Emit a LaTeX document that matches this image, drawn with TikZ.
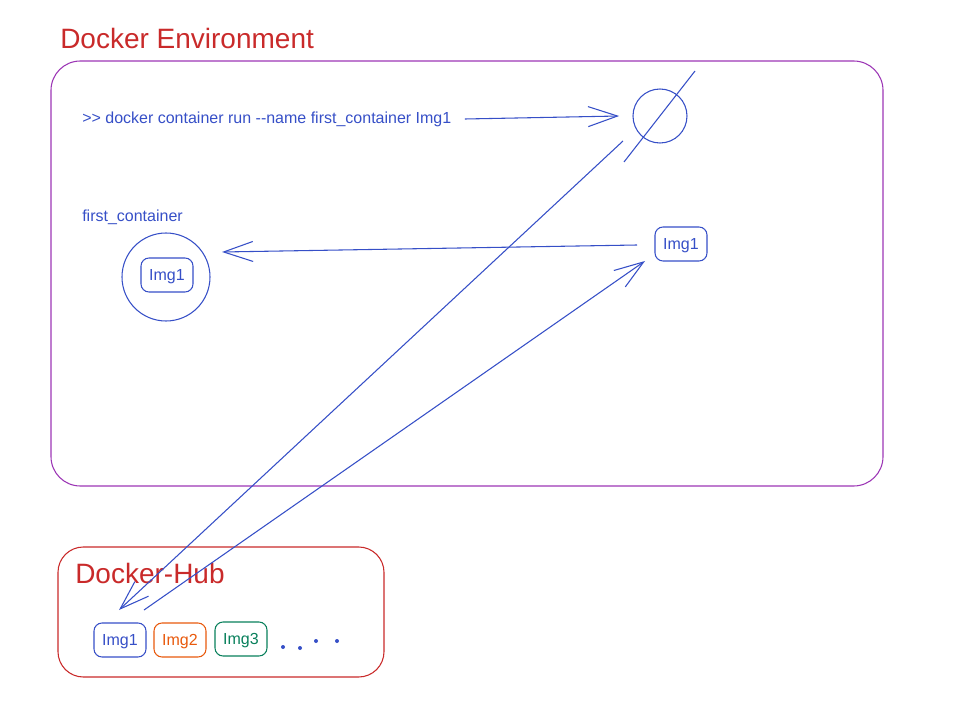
\documentclass[tikz,border=0pt]{standalone}
\usepackage{fontspec}
\setmainfont{Liberation Sans}
\usetikzlibrary{arrows.meta}
\definecolor{indigo}{HTML}{364FC7}
\definecolor{hubred}{HTML}{C92A2A}
\definecolor{grape}{HTML}{9C36B5}
\definecolor{imgorange}{HTML}{E8590C}
\definecolor{imggreen}{HTML}{087F5B}
\tikzset{
  sketch/.style={line width=0.8pt},
  arr/.style={sketch, indigo, -{Straight Barb[length=22pt,width=15pt]}},
  imgbox/.style={draw, sketch, rounded corners=6pt, minimum width=39pt, minimum height=25.5pt, inner sep=0pt, text height=9pt, text depth=1pt, font=\fontsize{12}{14}\selectfont},
  title/.style={anchor=west, inner sep=0pt, hubred, font=\fontsize{21}{25}\selectfont},
  label/.style={anchor=west, inner sep=0pt, indigo, font=\fontsize{12}{14}\selectfont},
}
\begin{document}
\begin{tikzpicture}[x=0.75pt,y=-0.75pt]
\useasboundingbox (0,0) rectangle (961,706);
% docker environment
\node[title] (envtitle) at (60,38) {Docker Environment};
\draw[grape, sketch, rounded corners=22pt] (51,61) rectangle (883,486);
\node[label] (cmd) at (82,119) {>{}> docker container run -{}-name first\_container Img1};
\node[draw, indigo, sketch, circle, minimum size=40.5pt, inner sep=0pt] (run) at (660,116) {};
\coordinate (strikeA) at (695,71);
\coordinate (strikeB) at (624,162);
\draw[indigo, sketch] (strikeA) -- (strikeB);
\node[label] (cname) at (82,217) {first\_container};
\node[draw, indigo, sketch, circle, minimum size=66pt, inner sep=0pt] (cont) at (166,277) {};
\node[imgbox, indigo] (contimg) at (167,275) {Img1};
\node[imgbox, indigo] (localimg) at (681,244) {Img1};
% docker hub
\draw[hubred, sketch, rounded corners=19pt] (58,547) rectangle (384,677);
\node[title] (hubtitle) at (75,573) {Docker-Hub};
\node[imgbox, indigo] (hubimg1) at (120,640) {Img1};
\node[imgbox, imgorange] (hubimg2) at (180,640) {Img2};
\node[imgbox, imggreen] (hubimg3) at (241,639) {Img3};
\fill[indigo] (283,647) circle (1.5pt) (300,648) circle (1.5pt) (316,641) circle (1.5pt) (337,641) circle (1.5pt);
% arrows
\coordinate (pullstart) at (623,141);
\coordinate (pullend) at (119,610);
\coordinate (backstart) at (144,610);
\coordinate (backend) at (645,261);
\coordinate (makestart) at (637,245);
\coordinate (makeend) at (222,252);
\draw[arr] ([xshift=10pt]cmd.east) -- ([xshift=-10pt]run.west);
\draw[arr] (pullstart) -- (pullend);
\draw[arr] (backstart) -- (backend);
\draw[arr] (makestart) -- (makeend);
\end{tikzpicture}
\end{document}
